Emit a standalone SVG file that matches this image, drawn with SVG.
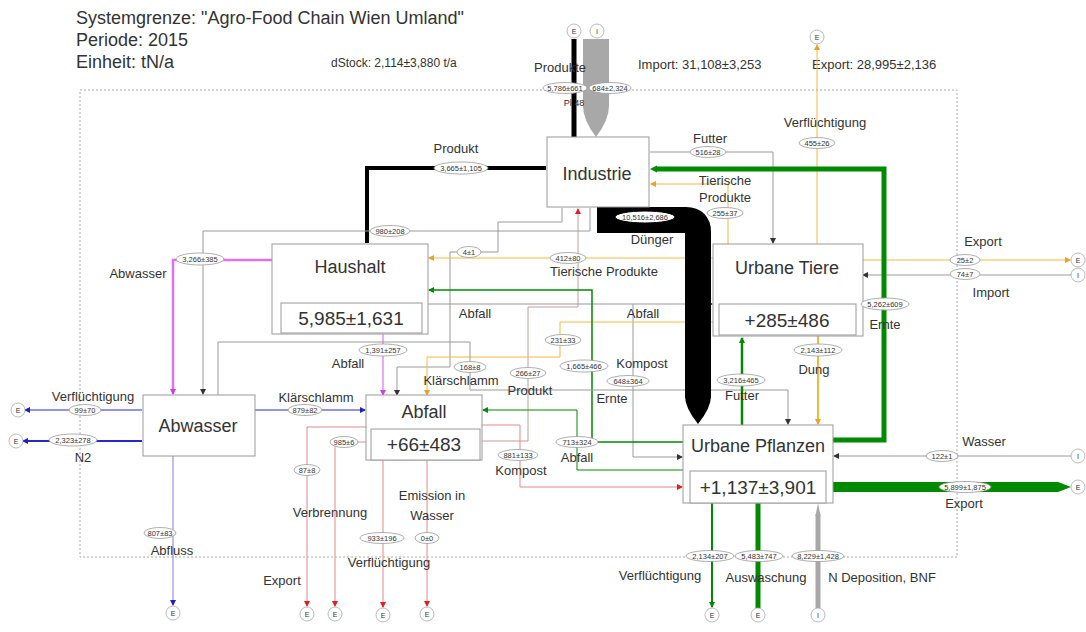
<svg xmlns="http://www.w3.org/2000/svg" width="1086" height="632" viewBox="0 0 1086 632">
<style>
text{font-family:"Liberation Sans",Arial,sans-serif;fill:#333}
.t{font-size:18px}
.n{font-size:18px;text-anchor:middle}
.l{font-size:13px;text-anchor:middle}
.v{font-size:7.5px;text-anchor:middle}
.box{fill:#fff;stroke:#999;stroke-width:1}
.ev{fill:#fff;stroke:#999;stroke-width:0.8}
.c{fill:#fff;stroke:#aaa;stroke-width:0.8}
.ct{font-size:7px;text-anchor:middle}
.f{fill:none}
.gr{stroke:#9a9a9a;stroke-width:1}
.og{stroke:#f6b73c;stroke-width:1}
.gn{stroke:#008a00}
.mg{stroke:#e070f0}
.bl{stroke:#2828c8}
.rd{stroke:#e38a8a;stroke-width:1}
.rs{stroke:#c99a9a;stroke-width:1}
</style>
<defs>
<marker id="ag" viewBox="0 0 6 6" refX="5" refY="3" markerWidth="6" markerHeight="6" markerUnits="userSpaceOnUse" orient="auto"><path d="M0,0L6,3L0,6z" fill="#333"/></marker>
<marker id="ao" viewBox="0 0 6 6" refX="5" refY="3" markerWidth="6" markerHeight="6" markerUnits="userSpaceOnUse" orient="auto"><path d="M0,0L6,3L0,6z" fill="#f0a020"/></marker>
<marker id="an" viewBox="0 0 6 6" refX="5" refY="3" markerWidth="6" markerHeight="6" markerUnits="userSpaceOnUse" orient="auto"><path d="M0,0L6,3L0,6z" fill="#008a00"/></marker>
<marker id="am" viewBox="0 0 6 6" refX="5" refY="3" markerWidth="6" markerHeight="6" markerUnits="userSpaceOnUse" orient="auto"><path d="M0,0L6,3L0,6z" fill="#d040e0"/></marker>
<marker id="ab" viewBox="0 0 6 6" refX="5" refY="3" markerWidth="6" markerHeight="6" markerUnits="userSpaceOnUse" orient="auto"><path d="M0,0L6,3L0,6z" fill="#2020c0"/></marker>
<marker id="ar" viewBox="0 0 6 6" refX="5" refY="3" markerWidth="6" markerHeight="6" markerUnits="userSpaceOnUse" orient="auto"><path d="M0,0L6,3L0,6z" fill="#e02020"/></marker>
</defs>
<rect width="1086" height="632" fill="#fff"/>

<g id="header">
<text class="t" x="76" y="24">Systemgrenze: "Agro-Food Chain Wien Umland"</text>
<text class="t" x="76" y="46">Periode: 2015</text>
<text class="t" x="76" y="68">Einheit: tN/a</text>
<text x="331" y="67" style="font-size:12px">dStock: 2,114±3,880 t/a</text>
<text x="638" y="69" style="font-size:13px">Import: 31,108±3,253</text>
<text x="812" y="69" style="font-size:13px">Export: 28,995±2,136</text>
</g>

<rect id="boundary" x="80" y="90" width="877" height="467" fill="none" stroke="#aaa" stroke-width="1" stroke-dasharray="2,2"/>

<g id="connectors">
<path class="f" d="M574,138V39" stroke="#000" stroke-width="5"/>
<path d="M583,39H609V106Q609,120 596,137Q583,120 583,106Z" fill="#a8a8a8"/>
<path class="f" d="M546,168H367V243" stroke="#000" stroke-width="4"/>
<path class="f gr" d="M590,208V231H203V394" marker-end="url(#ag)"/>
<path class="f gr" d="M562,208V222H498V252H450V367H397V395" marker-end="url(#ag)"/>
<path class="f rs" d="M482,441H528V307H578V209" marker-end="url(#ar)"/>
<path class="f gr" d="M650,152H773V243" marker-end="url(#ag)"/>
<path class="f og" d="M728,244V184H651" marker-end="url(#ao)"/>
<path class="f og" d="M817,244V45" marker-end="url(#ao)"/>
<path class="f og" d="M713,258H429" marker-end="url(#ao)"/>
<path class="f og" d="M862,260H1070" marker-end="url(#ao)"/>
<path class="f gr" d="M1071,275H863" marker-end="url(#ag)"/>
<path class="f gr" d="M428,304H712" marker-end="url(#ag)"/>
<path class="f gr" d="M633,304V457H682" marker-end="url(#ag)"/>
<path class="f og" d="M713,322H560V357H427V395" marker-end="url(#ao)"/>
<path class="f gn" stroke-width="1.5" d="M683,442H592V290H429" marker-end="url(#an)"/>
<path class="f gn" stroke-width="1" d="M683,470H577V410H483" marker-end="url(#an)"/>
<path class="f rd" d="M482,425H520V487H682" marker-end="url(#ar)"/>
<path class="f gr" d="M218,395V342H470V390H788V424" marker-end="url(#ag)"/>
<path class="f mg" stroke-width="2.5" d="M272,260H173V394" marker-end="url(#am)"/>
<path class="f mg" stroke-width="1.2" d="M383,334V395" marker-end="url(#am)"/>
<path class="f bl" stroke-width="1" d="M142,410H25" marker-end="url(#ab)"/>
<path class="f bl" stroke-width="2" d="M142,441H23" marker-end="url(#ab)"/>
<path class="f" stroke="#8080e0" stroke-width="1" d="M173,456V605" marker-end="url(#ab)"/>
<path class="f bl" stroke-width="1" d="M255,410H365" marker-end="url(#ab)"/>
<path class="f rd" d="M366,427H307V606" marker-end="url(#ar)"/>
<path class="f rd" d="M366,442H335V606" marker-end="url(#ar)"/>
<path class="f rd" d="M383,460V607" marker-end="url(#ar)"/>
<path class="f rd" d="M427,460V606" marker-end="url(#ar)"/>
<path class="f gn" stroke-width="2.5" d="M742,425V338" marker-end="url(#an)"/>
<path class="f" stroke="#f6b73c" stroke-width="2" d="M818,336V424" marker-end="url(#ao)"/>
<path class="f" stroke="#008a00" stroke-width="5" d="M833,440H884V169H656"/>
<path d="M650,169L657,165.5V172.5Z" fill="#008a00"/>
<path class="f" stroke="#000" stroke-width="26" d="M597,220H686Q698,220 698,232V398"/>
<path d="M685,396H711Q711,408 698,424Q685,408 685,396Z" fill="#000"/>
<path class="f gr" d="M1071,456H834" marker-end="url(#ag)"/>
<path d="M833,482H1058L1071,487L1058,492H833Z" fill="#008a00"/>
<path class="f gn" stroke-width="2" d="M712,502V607" marker-end="url(#an)"/>
<path class="f gn" stroke-width="5" d="M758,502V608"/>
<path d="M818,608V514" stroke="#a8a8a8" stroke-width="5" fill="none"/>
<path d="M815.5,516H820.5L818,503Z" fill="#a8a8a8"/>
</g>

<g id="nodes">
<g id="industrie"><rect class="box" x="547" y="137" width="102" height="70"/><text class="n" x="597" y="180">Industrie</text></g>
<g id="haushalt"><rect class="box" x="272" y="244" width="156" height="90"/><text class="n" x="350" y="273">Haushalt</text><rect class="box" x="281" y="303" width="141" height="30"/><text class="n" x="351" y="325" style="font-size:19px">5,985±1,631</text></g>
<g id="urbane-tiere"><rect class="box" x="713" y="244" width="150" height="92"/><text class="n" x="787" y="274">Urbane Tiere</text><rect class="box" x="719" y="304" width="137" height="31"/><text class="n" x="787" y="327" style="font-size:19px">+285±486</text></g>
<g id="abwasser"><rect class="box" x="143" y="395" width="112" height="61"/><text class="n" x="198" y="432">Abwasser</text></g>
<g id="abfall"><rect class="box" x="366" y="395" width="116" height="65"/><text class="n" x="424" y="418">Abfall</text><rect class="box" x="371" y="429" width="109" height="31"/><text class="n" x="424" y="451" style="font-size:19px">+66±483</text></g>
<g id="urbane-pflanzen"><rect class="box" x="683" y="425" width="150" height="78"/><text class="n" x="758" y="452">Urbane Pflanzen</text><rect class="box" x="690" y="471" width="136" height="32"/><text class="n" x="758" y="494" style="font-size:19px">+1,137±3,901</text></g>
</g>

<g id="terminals">
<circle class="c" cx="574" cy="31" r="7"/><text class="ct" x="574" y="33.5">E</text>
<circle class="c" cx="597" cy="31" r="7"/><text class="ct" x="597" y="33.5">I</text>
<circle class="c" cx="817" cy="37" r="7"/><text class="ct" x="817" y="39.5">E</text>
<circle class="c" cx="1078" cy="260" r="7"/><text class="ct" x="1078" y="262.5">E</text>
<circle class="c" cx="1078" cy="275" r="7"/><text class="ct" x="1078" y="277.5">I</text>
<circle class="c" cx="1078" cy="456" r="7"/><text class="ct" x="1078" y="458.5">I</text>
<circle class="c" cx="1078" cy="487" r="7"/><text class="ct" x="1078" y="489.5">E</text>
<circle class="c" cx="18" cy="410" r="7"/><text class="ct" x="18" y="412.5">E</text>
<circle class="c" cx="16" cy="441" r="7"/><text class="ct" x="16" y="443.5">E</text>
<circle class="c" cx="173" cy="613" r="7"/><text class="ct" x="173" y="615.5">E</text>
<circle class="c" cx="307" cy="614" r="7"/><text class="ct" x="307" y="616.5">E</text>
<circle class="c" cx="335" cy="614" r="7"/><text class="ct" x="335" y="616.5">E</text>
<circle class="c" cx="383" cy="615" r="7"/><text class="ct" x="383" y="617.5">E</text>
<circle class="c" cx="427" cy="614" r="7"/><text class="ct" x="427" y="616.5">E</text>
<circle class="c" cx="712" cy="615" r="7"/><text class="ct" x="712" y="617.5">E</text>
<circle class="c" cx="758" cy="615" r="7"/><text class="ct" x="758" y="617.5">E</text>
<circle class="c" cx="818" cy="615" r="7"/><text class="ct" x="818" y="617.5">I</text>
</g>

<g id="values">
<ellipse class="ev" cx="565" cy="88" rx="22" ry="5.5"/><text class="v" x="565" y="90.5">5,786±661</text>
<ellipse class="ev" cx="610" cy="88" rx="21" ry="5.5"/><text class="v" x="610" y="90.5">684±2,324</text>
<ellipse class="ev" cx="461" cy="168" rx="27" ry="6"/><text class="v" x="461" y="170.5">3,665±1,105</text>
<ellipse class="ev" cx="390" cy="231" rx="20" ry="5.5"/><text class="v" x="390" y="233.5">980±208</text>
<ellipse class="ev" cx="469" cy="252" rx="12" ry="5.5"/><text class="v" x="469" y="254.5">4±1</text>
<ellipse class="ev" cx="200" cy="259" rx="24" ry="6"/><text class="v" x="200" y="261.5">3,266±385</text>
<ellipse cx="645" cy="217" rx="30" ry="6" fill="#fff" stroke="#000"/><text class="v" x="645" y="219.5">10,516±2,686</text>
<ellipse class="ev" cx="708" cy="152" rx="18" ry="5.5"/><text class="v" x="708" y="154.5">516±28</text>
<ellipse class="ev" cx="725" cy="213" rx="18" ry="5.5"/><text class="v" x="725" y="215.5">255±37</text>
<ellipse class="ev" cx="817" cy="143" rx="18" ry="5.5"/><text class="v" x="817" y="145.5">455±26</text>
<ellipse class="ev" cx="568" cy="258" rx="18" ry="5.5"/><text class="v" x="568" y="260.5">412±80</text>
<ellipse class="ev" cx="383" cy="350" rx="24" ry="6"/><text class="v" x="383" y="352.5">1,391±257</text>
<ellipse class="ev" cx="885" cy="304" rx="24" ry="6"/><text class="v" x="885" y="306.5">5,262±609</text>
<ellipse class="ev" cx="965" cy="260" rx="15" ry="5.5"/><text class="v" x="965" y="262.5">25±2</text>
<ellipse class="ev" cx="965" cy="274" rx="15" ry="5.5"/><text class="v" x="965" y="276.5">74±7</text>
<ellipse class="ev" cx="563" cy="340" rx="18" ry="5.5"/><text class="v" x="563" y="342.5">231±33</text>
<ellipse class="ev" cx="584" cy="366" rx="24" ry="6"/><text class="v" x="584" y="368.5">1,665±466</text>
<ellipse class="ev" cx="628" cy="381" rx="21" ry="5.5"/><text class="v" x="628" y="383.5">648±364</text>
<ellipse class="ev" cx="741" cy="380" rx="24" ry="6"/><text class="v" x="741" y="382.5">3,216±465</text>
<ellipse class="ev" cx="818" cy="350" rx="24" ry="6"/><text class="v" x="818" y="352.5">2,143±112</text>
<ellipse class="ev" cx="470" cy="367" rx="16" ry="5.5"/><text class="v" x="470" y="369.5">168±8</text>
<ellipse class="ev" cx="528" cy="373" rx="18" ry="5.5"/><text class="v" x="528" y="375.5">266±27</text>
<ellipse class="ev" cx="305" cy="410" rx="17" ry="5.5"/><text class="v" x="305" y="412.5">879±82</text>
<ellipse class="ev" cx="85" cy="410" rx="16" ry="5.5"/><text class="v" x="85" y="412.5">99±70</text>
<ellipse class="ev" cx="73" cy="440" rx="24" ry="6"/><text class="v" x="73" y="442.5">2,323±278</text>
<ellipse class="ev" cx="344" cy="442" rx="14" ry="5.5"/><text class="v" x="344" y="444.5">985±6</text>
<ellipse class="ev" cx="307" cy="470" rx="13" ry="5.5"/><text class="v" x="307" y="472.5">87±8</text>
<ellipse class="ev" cx="518" cy="455" rx="20" ry="5.5"/><text class="v" x="518" y="457.5">881±133</text>
<ellipse class="ev" cx="577" cy="442" rx="21" ry="5.5"/><text class="v" x="577" y="444.5">713±324</text>
<ellipse class="ev" cx="942" cy="456" rx="16" ry="5.5"/><text class="v" x="942" y="458.5">122±1</text>
<ellipse class="ev" cx="965" cy="487" rx="26" ry="5.5"/><text class="v" x="965" y="489.5">5,899±1,875</text>
<ellipse class="ev" cx="160" cy="533" rx="16" ry="5.5"/><text class="v" x="160" y="535.5">807±83</text>
<ellipse class="ev" cx="382" cy="538" rx="22" ry="5.5"/><text class="v" x="382" y="540.5">933±196</text>
<ellipse class="ev" cx="427" cy="538" rx="12" ry="5.5"/><text class="v" x="427" y="540.5">0±0</text>
<ellipse class="ev" cx="710" cy="556" rx="24" ry="5.5"/><text class="v" x="710" y="558.5">2,134±207</text>
<ellipse class="ev" cx="759" cy="556" rx="24" ry="5.5"/><text class="v" x="759" y="558.5">5,483±747</text>
<ellipse class="ev" cx="818" cy="556" rx="26" ry="5.5"/><text class="v" x="818" y="558.5">8,229±1,428</text>
</g>

<g id="labels">
<text class="l" x="560" y="72">Produkte</text>
<text class="l" x="574" y="106" style="font-size:9px">Pl   48</text>
<text class="l" x="456" y="153">Produkt</text>
<text class="l" x="138" y="278">Abwasser</text>
<text class="l" x="604" y="276">Tierische Produkte</text>
<text class="l" x="475" y="318">Abfall</text>
<text class="l" x="643" y="318">Abfall</text>
<text class="l" x="642" y="368">Kompost</text>
<text class="l" x="612" y="403">Ernte</text>
<text class="l" x="461" y="385">Klärschlamm</text>
<text class="l" x="530" y="395">Produkt</text>
<text class="l" x="348" y="368">Abfall</text>
<text class="l" x="316" y="402">Klärschlamm</text>
<text class="l" x="521" y="475">Kompost</text>
<text class="l" x="577" y="462">Abfall</text>
<text class="l" x="330" y="517">Verbrennung</text>
<text class="l" x="432" y="500">Emission in</text>
<text class="l" x="432" y="520">Wasser</text>
<text class="l" x="389" y="567">Verflüchtigung</text>
<text class="l" x="282" y="585">Export</text>
<text class="l" x="172" y="555">Abfluss</text>
<text class="l" x="93" y="401">Verflüchtigung</text>
<text class="l" x="83" y="462">N2</text>
<text class="l" x="710" y="143">Futter</text>
<text class="l" x="725" y="185">Tierische</text>
<text class="l" x="725" y="202">Produkte</text>
<text class="l" x="652" y="244">Dünger</text>
<text class="l" x="825" y="127">Verflüchtigung</text>
<text class="l" x="983" y="246">Export</text>
<text class="l" x="991" y="297">Import</text>
<text class="l" x="885" y="329">Ernte</text>
<text class="l" x="742" y="400">Futter</text>
<text class="l" x="814" y="374">Dung</text>
<text class="l" x="984" y="446">Wasser</text>
<text class="l" x="964" y="508">Export</text>
<text class="l" x="660" y="580">Verflüchtigung</text>
<text class="l" x="766" y="582">Auswaschung</text>
<text class="l" x="882" y="582">N Deposition, BNF</text>
</g>
</svg>
